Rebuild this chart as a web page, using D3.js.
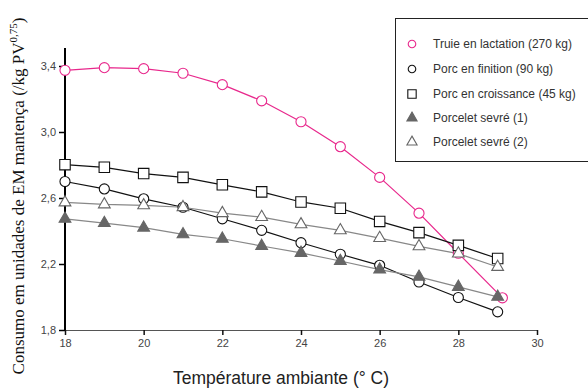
<!DOCTYPE html>
<html>
<head>
<meta charset="utf-8">
<script src="https://cdn.jsdelivr.net/npm/d3@7"></script>
<style>
  body { margin: 0; background: #fff; }
  svg { display: block; }
</style>
</head>
<body>
<div id="chart"></div>
<script>
// temperatures (°C)
const temps = [18, 19, 20, 21, 22, 23, 24, 25, 26, 27, 28, 29]
const truieTemps = [18, 19, 20, 21, 22, 23, 24, 25, 26, 27, 28, 29.12]

// EM consumption per kg PV^0.75
const truie = [3.374, 3.39, 3.384, 3.356, 3.287, 3.189, 3.062, 2.911, 2.725, 2.508, 2.265, 1.995]
const finition = [2.70, 2.655, 2.595, 2.544, 2.474, 2.404, 2.329, 2.259, 2.192, 2.091, 1.997, 1.910]
const croissance = [2.802, 2.786, 2.748, 2.725, 2.68, 2.637, 2.576, 2.538, 2.458, 2.39, 2.313, 2.233]
const sevre1 = [2.474, 2.448, 2.42, 2.38, 2.353, 2.309, 2.267, 2.218, 2.166, 2.122, 2.061, 2.001]
const sevre2 = [2.573, 2.561, 2.555, 2.544, 2.508, 2.484, 2.44, 2.404, 2.357, 2.307, 2.263, 2.182]

const xTicks = [18, 20, 22, 24, 26, 28, 30]
const yTicks = [1.8, 2.2, 2.6, 3.0, 3.4]

const labels = ["Truie en lactation (270 kg)", "Porc en finition (90 kg)",
  "Porc en croissance (45 kg)", "Porcelet sevré (1)", "Porcelet sevré (2)"]

const PINK = "#e8288c"

const series = [
  { xs: truieTemps, ys: truie, shape: "circle", line: PINK, stroke: PINK, fill: "#fff" },
  { xs: temps, ys: finition, shape: "circle", line: "#111", stroke: "#111", fill: "#fff" },
  { xs: temps, ys: croissance, shape: "square", line: "#111", stroke: "#111", fill: "#fff" },
  { xs: temps, ys: sevre1, shape: "triangle", line: "#888", stroke: "#666", fill: "#666" },
  { xs: temps, ys: sevre2, shape: "triangle", line: "#888", stroke: "#666", fill: "#fff" }
]

const W = 588, H = 390
const svg = d3.select("#chart").append("svg")
  .attr("width", W).attr("height", H)

const x = d3.scaleLinear().domain([18, 30]).range([65, 537])
const y = d3.scaleLinear().domain([1.8, 3.4]).range([330, 66])

// x axis (grey line, ticks pointing down)
const xAxis = svg.append("g")
  .attr("transform", `translate(0,${y(1.8)})`)
  .call(d3.axisBottom(x).tickValues(xTicks).tickSize(5).tickSizeOuter(0).tickPadding(4)
    .tickFormat(d3.format("d")))
xAxis.select(".domain").attr("stroke", "#555").attr("stroke-width", 1.2)
xAxis.selectAll(".tick line").attr("stroke", "#111").attr("stroke-width", 1.5)
xAxis.selectAll("text").attr("fill", "#444").attr("font-family", "Liberation Sans, Arial, sans-serif")
  .attr("font-size", 11)

// y axis (thick black)
const yAxis = svg.append("g")
  .attr("transform", `translate(${x(18)},0)`)
  .call(d3.axisLeft(y).tickValues(yTicks).tickSize(6).tickSizeOuter(0).tickPadding(3)
    .tickFormat(d => d3.format(".1f")(d).replace(".", ",")))
yAxis.select(".domain").attr("d", `M0,48V${y(1.8)}`).attr("stroke", "#000").attr("stroke-width", 2)
yAxis.selectAll(".tick line").attr("stroke", "#000").attr("stroke-width", 1.5)
yAxis.selectAll("text").attr("fill", "#444").attr("font-family", "Liberation Sans, Arial, sans-serif")
  .attr("font-size", 11)

const symbolFor = {
  circle: d3.symbol(d3.symbolCircle, 80),
  square: d3.symbol(d3.symbolSquare, 110),
  triangle: d3.symbol(d3.symbolTriangle, 60)
}

const line = d3.line().x(d => x(d[0])).y(d => y(d[1]))

// lines first, then markers on top
series.forEach(s => {
  const pts = s.xs.map((t, i) => [t, s.ys[i]])
  svg.append("path")
    .attr("d", line(pts))
    .attr("fill", "none")
    .attr("stroke", s.line)
    .attr("stroke-width", 1.2)
})
series.forEach(s => {
  const pts = s.xs.map((t, i) => [t, s.ys[i]])
  svg.append("g").selectAll("path")
    .data(pts)
    .join("path")
      .attr("transform", d => `translate(${x(d[0])},${y(d[1])})`)
      .attr("d", symbolFor[s.shape])
      .attr("fill", s.fill)
      .attr("stroke", s.stroke)
      .attr("stroke-width", 1.1)
})

// legend
const legend = svg.append("g")
legend.append("rect")
  .attr("x", 395.5).attr("y", 18.5)
  .attr("width", 200).attr("height", 143)
  .attr("fill", "#fff").attr("stroke", "#222").attr("stroke-width", 1)

const legendSym = {
  circle: d3.symbol(d3.symbolCircle, 45),
  square: d3.symbol(d3.symbolSquare, 70),
  triangle: d3.symbol(d3.symbolTriangle, 45)
}
const rowY = [44, 69, 94, 118, 142]
series.forEach((s, i) => {
  legend.append("path")
    .attr("transform", `translate(412,${rowY[i]})`)
    .attr("d", legendSym[s.shape])
    .attr("fill", s.fill)
    .attr("stroke", s.stroke)
    .attr("stroke-width", 1.1)
  legend.append("text")
    .attr("x", 433).attr("y", rowY[i] + 4)
    .attr("font-family", "Liberation Sans, Arial, sans-serif")
    .attr("font-size", 12)
    .attr("fill", "#333")
    .text(labels[i])
})

// axis titles
svg.append("text")
  .attr("x", 281).attr("y", 384)
  .attr("text-anchor", "middle")
  .attr("font-family", "Liberation Sans, Arial, sans-serif")
  .attr("font-size", 17.5)
  .attr("fill", "#222")
  .text("Température ambiante (° C)")

const yTitle = svg.append("text")
  .attr("transform", "translate(24,196) rotate(-90)")
  .attr("text-anchor", "middle")
  .attr("font-family", "Liberation Serif, Times New Roman, serif")
  .attr("font-size", 17)
  .attr("fill", "#111")
yTitle.append("tspan").text("Consumo em unidades de EM mantença (/kg PV")
yTitle.append("tspan").attr("font-size", 11).attr("dy", -7).text("0,75")
yTitle.append("tspan").attr("dy", 7).text(")")
</script>
</body>
</html>
